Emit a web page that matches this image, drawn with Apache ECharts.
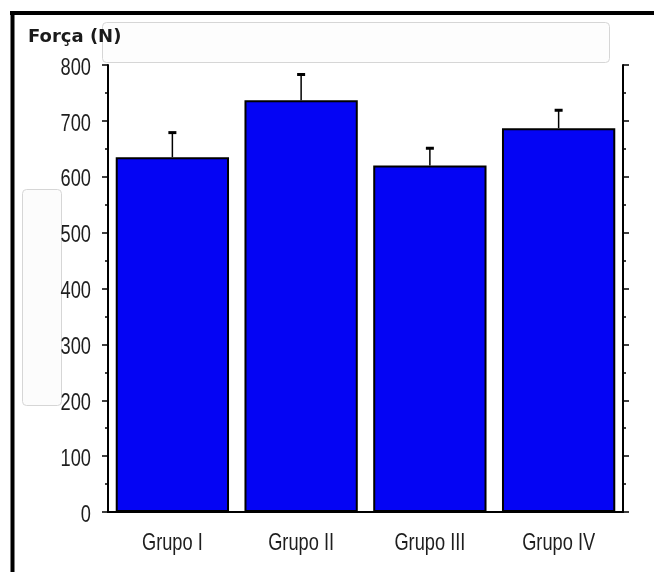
<!DOCTYPE html>
<html>
<head>
<meta charset="utf-8">
<script src="https://cdn.jsdelivr.net/npm/echarts@6/dist/echarts.min.js"></script>
<style>
html, body { margin: 0; padding: 0; background: #fff; }
#chart { width: 654px; height: 572px; }
</style>
</head>
<body>
<div id="chart"></div>
<script>
// data
const groups = ['Grupo I', 'Grupo II', 'Grupo III', 'Grupo IV'];
const force = [635, 737, 620, 687];
const errTop = [679, 783, 651, 719];
const yTicks = [0, 100, 200, 300, 400, 500, 600, 700, 800];

// labels in the original are a narrow font, squeeze a normal one
const labelFont = "24px 'Liberation Sans', Arial, sans-serif";
const squeeze = 0.76;

const chart = echarts.init(document.getElementById('chart'));

const errData = groups.map((g, i) => [i, force[i], errTop[i]]);
const yLabelData = yTicks.map(v => [0, v]);
const xLabelData = groups.map((g, i) => [i, 0]);

const option = {
    animation: false,
    backgroundColor: '#fff',
    grid: { left: 108, right: 31, top: 65, bottom: 60 },
    graphic: [
        // frame of the screenshot
        { type: 'line', shape: { x1: 10, y1: 13, x2: 654, y2: 13 }, style: { stroke: '#000', lineWidth: 4 } },
        { type: 'line', shape: { x1: 12.5, y1: 11, x2: 12.5, y2: 572 }, style: { stroke: '#000', lineWidth: 4 } },
        // faint empty boxes
        { type: 'rect', shape: { x: 102.5, y: 22.5, width: 507, height: 40, r: 4 }, style: { fill: '#fdfdfd', stroke: '#d6d6d6', lineWidth: 1 } },
        { type: 'rect', shape: { x: 22.5, y: 189.5, width: 39, height: 216, r: 4 }, style: { fill: '#fcfcfc', stroke: '#d6d6d6', lineWidth: 1 } },
        {
            type: 'text', left: 28, top: 28, z: 10,
            style: { text: 'Força (N)', font: "bold 18px 'DejaVu Sans', sans-serif", fill: '#1a1a1a' }
        }
    ],
    xAxis: [
        {
            type: 'category',
            data: groups,
            axisLine: { lineStyle: { color: '#000', width: 2 } },
            axisTick: { alignWithLabel: true, length: 5, lineStyle: { color: '#000', width: 1.5 } },
            axisLabel: { show: false }
        },
        {
            type: 'category',
            position: 'top',
            data: groups,
            axisLine: { lineStyle: { color: '#000', width: 2 } },
            axisTick: { show: false },
            axisLabel: { show: false }
        }
    ],
    yAxis: [
        {
            type: 'value',
            min: 0, max: 800, interval: 100,
            axisLine: { show: true, lineStyle: { color: '#000', width: 2 } },
            axisTick: { show: true, length: 6, lineStyle: { color: '#000', width: 1.5 } },
            minorTick: { show: true, splitNumber: 2, length: 3, lineStyle: { color: '#000', width: 1.5 } },
            splitLine: { show: false },
            axisLabel: { show: false }
        },
        {
            type: 'value',
            position: 'right',
            min: 0, max: 800, interval: 100,
            axisLine: { show: true, lineStyle: { color: '#000', width: 2 } },
            axisTick: { show: true, length: 6, lineStyle: { color: '#000', width: 1.5 } },
            minorTick: { show: true, splitNumber: 2, length: 3, lineStyle: { color: '#000', width: 1.5 } },
            splitLine: { show: false },
            axisLabel: { show: false }
        }
    ],
    series: [
        {
            type: 'bar',
            data: force,
            barCategoryGap: '12%',
            itemStyle: { color: '#0404f4', borderColor: '#000', borderWidth: 2 }
        },
        {
            type: 'custom',
            data: errData,
            z: 1,
            renderItem: function (params, api) {
                const p0 = api.coord([api.value(0), api.value(1)]);
                const p1 = api.coord([api.value(0), api.value(2)]);
                return {
                    type: 'group',
                    children: [
                        { type: 'line', shape: { x1: p0[0], y1: p0[1], x2: p1[0], y2: p1[1] }, style: { stroke: '#000', lineWidth: 1.5 } },
                        { type: 'line', shape: { x1: p1[0] - 4, y1: p1[1], x2: p1[0] + 4, y2: p1[1] }, style: { stroke: '#000', lineWidth: 3 } }
                    ]
                };
            }
        },
        {
            // y tick labels
            type: 'custom',
            data: yLabelData,
            silent: true,
            clip: false,
            renderItem: function (params, api) {
                const p = api.coord([0, api.value(1)]);
                return {
                    type: 'text',
                    x: params.coordSys.x - 17,
                    y: p[1] + 3,
                    scaleX: squeeze,
                    style: { text: String(api.value(1)), font: labelFont, fill: '#1e1e1e', align: 'right', verticalAlign: 'middle' }
                };
            }
        },
        {
            // category labels
            type: 'custom',
            data: xLabelData,
            silent: true,
            clip: false,
            renderItem: function (params, api) {
                const p = api.coord([api.value(0), 0]);
                return {
                    type: 'text',
                    x: p[0],
                    y: p[1] + 31,
                    scaleX: squeeze,
                    style: { text: groups[params.dataIndex], font: labelFont, fill: '#1e1e1e', align: 'center', verticalAlign: 'middle' }
                };
            }
        }
    ]
};

chart.setOption(option);
</script>
</body>
</html>
